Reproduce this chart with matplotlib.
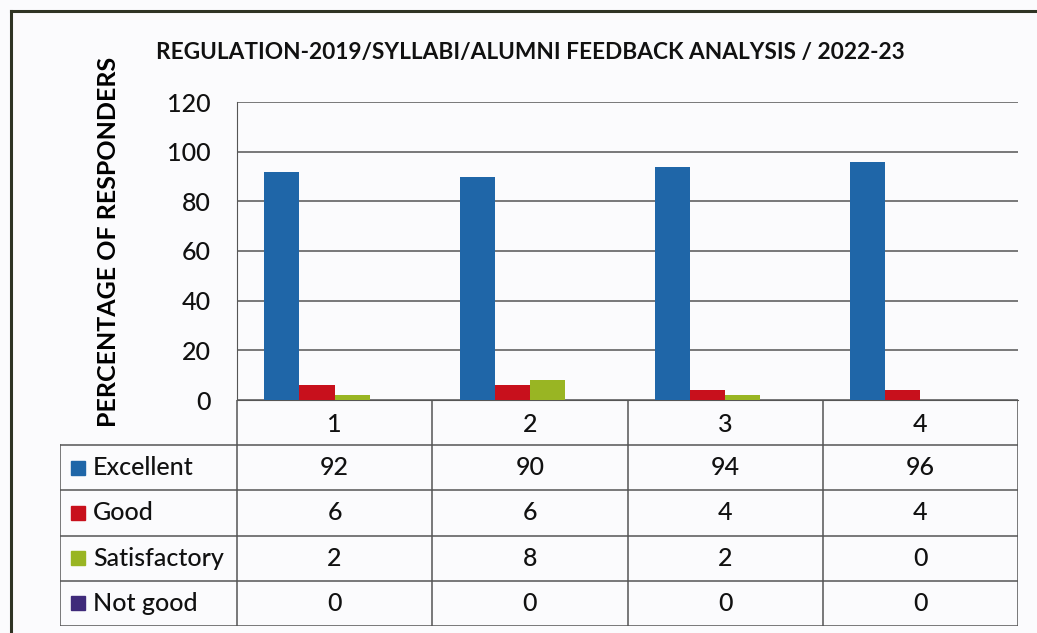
import matplotlib.pyplot as plt
from matplotlib.lines import Line2D

# data
categories = ['1', '2', '3', '4']
series_names = ['Excellent', 'Good', 'Satisfactory', 'Not good']
excellent = [92, 90, 94, 96]
good = [6, 6, 4, 4]
satisfactory = [2, 8, 2, 0]
not_good = [0, 0, 0, 0]
series = [excellent, good, satisfactory, not_good]
colors = ['#1f66a8', '#c8101c', '#99b523', '#3f2a7a']

plt.rcParams['font.family'] = ['Lato', 'DejaVu Sans']
plt.rcParams['font.weight'] = 'medium'
plt.rcParams['text.color'] = '#111111'

W, H = 1037, 633
fig = plt.figure(figsize=(W / 100, H / 100), dpi=100)
bg = '#fbfbfd'
fig.patch.set_facecolor(bg)


def fx(px):
    return px / W


def fy(py):
    return 1 - py / H


grid_c = '#555555'
fs = 18

# bar chart area
ax = fig.add_axes([fx(237), fy(400), fx(1018) - fx(237), fy(102) - fy(400)])
ax.set_facecolor(bg)
x = list(range(len(categories)))
bw = 0.18
for i, (vals, c) in enumerate(zip(series, colors)):
    ax.bar([xi + (i - 1.5) * bw for xi in x], vals, width=bw, color=c,
           label=series_names[i], zorder=3)
ax.set_xlim(-0.5, len(categories) - 0.5)
ax.set_ylim(0, 120)
ax.set_yticks(range(0, 121, 20))
ax.set_xticks([])
ax.tick_params(axis='y', length=0, pad=19, labelsize=fs, labelcolor='#111111')
ax.yaxis.grid(True, color=grid_c, linewidth=1.1, zorder=0)
for s in ['top', 'right']:
    ax.spines[s].set_visible(False)
ax.spines['left'].set_color(grid_c)
ax.spines['bottom'].set_color(grid_c)
ax.set_ylabel('PERCENTAGE OF RESPONDERS', fontsize=18, fontweight='bold')
ax.yaxis.set_label_coords(-0.15, 0.53)

fig.text(fx(530), fy(52), 'REGULATION-2019/SYLLABI/ALUMNI FEEDBACK ANALYSIS / 2022-23',
         ha='center', va='center', fontsize=16.3, fontweight='bold')

# data table below the chart
unit = (1018 - 237) / len(categories)
x_left = -0.5 - (237 - 60) / unit
tx = fig.add_axes([fx(60), fy(626), fx(1018) - fx(60), fy(400) - fy(626)])
tx.set_xlim(x_left, len(categories) - 0.5)
tx.set_ylim(len(series) + 1, 0)
tx.axis('off')
nrows = len(series) + 1
for r in range(1, nrows + 1):
    tx.plot([x_left, len(categories) - 0.5], [r, r], color=grid_c, lw=1.1)
for k in range(len(categories) + 1):
    tx.plot([k - 0.5, k - 0.5], [0, nrows], color=grid_c, lw=1.1)
tx.plot([x_left, x_left], [1, nrows], color=grid_c, lw=1.1)

for j, cat in enumerate(categories):
    tx.text(j, 0.55, cat, ha='center', va='center', fontsize=fs)
for i, (name, vals, c) in enumerate(zip(series_names, series, colors)):
    yy = i + 1.5
    tx.plot([x_left + 0.09], [yy], marker='s', markersize=10, color=c)
    tx.text(x_left + 0.17, yy, name, ha='left', va='center', fontsize=fs)
    for j, v in enumerate(vals):
        tx.text(j, yy, str(v), ha='center', va='center', fontsize=fs)

# outer frame (top and left edges visible in the scan)
fig.add_artist(Line2D([fx(11), 1], [fy(11), fy(11)], color='#2f3424', lw=2.2))
fig.add_artist(Line2D([fx(11), fx(11)], [0, fy(11)], color='#2f3424', lw=2.2))

fig.savefig('out.png', dpi=100, facecolor=bg)
